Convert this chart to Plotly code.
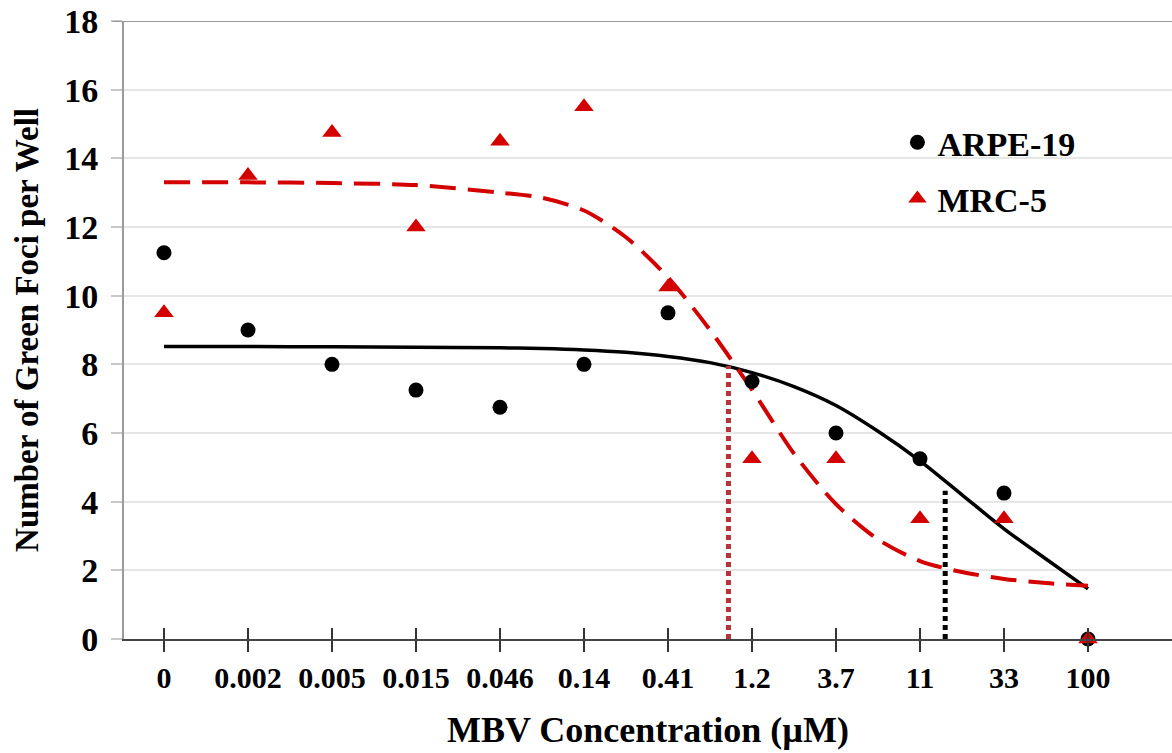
import plotly.graph_objects as go

# ---- data ----
conc_labels = ["0", "0.002", "0.005", "0.015", "0.046", "0.14", "0.41", "1.2", "3.7", "11", "33", "100"]
arpe19 = [11.25, 9.0, 8.0, 7.25, 6.75, 8.0, 9.5, 7.5, 6.0, 5.25, 4.25, 0.0]
mrc5 = [9.5, 13.5, 14.75, 12.0, 14.5, 15.5, 10.25, 5.25, 5.25, 3.5, 3.5, 0.0]

# fitted curves at category positions
fit_pos = [0, 1, 2, 3, 4, 4.5, 5, 5.5, 6, 6.5, 7, 7.5, 8, 8.5, 9, 9.5, 10, 10.5, 11]
arpe19_fit = [8.52, 8.52, 8.51, 8.50, 8.48, 8.46, 8.42, 8.35, 8.23, 8.05, 7.76, 7.35, 6.8, 6.05, 5.19, 4.2, 3.21, 2.33, 1.46]
mrc5_fit = [13.3, 13.3, 13.28, 13.22, 13.0, 12.85, 12.48, 11.7, 10.53, 9.0, 7.26, 5.4, 3.93, 2.9, 2.27, 1.95, 1.75, 1.63, 1.55]

# IC50 drop lines (category position, height)
mrc5_ic50 = (6.72, 7.95)
arpe19_ic50 = (9.30, 4.32)

pos = list(range(len(conc_labels)))

FONT = "Liberation Serif, Times New Roman, serif"
RED = "#d40000"
DROP_RED = "#b8323a"

fig = go.Figure()

fig.add_trace(go.Scatter(x=fit_pos, y=arpe19_fit, mode="lines",
                         line=dict(color="black", width=3.5, shape="spline", smoothing=0.8),
                         showlegend=False, hoverinfo="skip"))
fig.add_trace(go.Scatter(x=fit_pos, y=mrc5_fit, mode="lines",
                         line=dict(color=RED, width=4, shape="spline", smoothing=0.8, dash="26px,12px"),
                         showlegend=False, hoverinfo="skip"))

fig.add_trace(go.Scatter(x=[mrc5_ic50[0], mrc5_ic50[0]], y=[0, mrc5_ic50[1]], mode="lines",
                         line=dict(color=DROP_RED, width=5, dash="5px,4px"), showlegend=False, hoverinfo="skip"))
fig.add_trace(go.Scatter(x=[arpe19_ic50[0], arpe19_ic50[0]], y=[0, arpe19_ic50[1]], mode="lines",
                         line=dict(color="black", width=5, dash="5px,4px"), showlegend=False, hoverinfo="skip"))

fig.add_trace(go.Scatter(x=pos, y=arpe19, mode="markers", name="ARPE-19", legendgroup="a",
                         marker=dict(symbol="circle", size=15, color="black"), cliponaxis=False))
fig.add_trace(go.Scatter(x=pos, y=mrc5, mode="markers", name="MRC-5", legendgroup="b",
                         marker=dict(symbol="triangle-up", size=17, color=RED), cliponaxis=False))

fig.add_shape(type="line", xref="x domain", yref="y", x0=-0.011, x1=1, y0=18, y1=18,
              line=dict(color="#9a9a9a", width=2))

fig.update_layout(
    width=1172, height=753,
    margin=dict(l=124, r=0, t=21, b=114),
    paper_bgcolor="white", plot_bgcolor="white",
    font=dict(family=FONT, color="black"),
    showlegend=True,
    legend=dict(x=0.738, y=0.85, xanchor="left", yanchor="top", bgcolor="rgba(0,0,0,0)",
                font=dict(size=34, family=FONT, color="black", weight="bold"),
                tracegroupgap=9, itemsizing="trace"),
    xaxis=dict(range=[-0.476, 12.0], tickmode="array", tickvals=pos, ticktext=conc_labels,
               automargin=False,
               showgrid=False, zeroline=False, showline=True, linecolor="#444444", linewidth=1.5,
               ticks="outside", ticklen=11, tickwidth=1.5, tickcolor="#333333",
               tickfont=dict(size=30, family=FONT, color="black", weight="bold"),
               title=dict(text="MBV Concentration (µM)", standoff=24,
                          font=dict(size=36, family=FONT, color="black", weight="bold"))),
    xaxis2=dict(range=[-0.476, 12.0], overlaying="x", anchor="y", side="bottom", matches="x",
                automargin=False,
                tickmode="array", tickvals=pos, showticklabels=False, showgrid=False, zeroline=False,
                showline=False, ticks="inside", ticklen=11, tickwidth=1.5, tickcolor="#333333"),
    yaxis=dict(range=[0, 18], tickmode="array", tickvals=list(range(0, 19, 2)),
               automargin=False,
               showgrid=True, gridcolor="#e6e6e6", gridwidth=1.5, zeroline=False,
               showline=True, linecolor="#9a9a9a", linewidth=2,
               ticks="outside", ticklen=11, tickcolor="#c8c8c8", tickwidth=1.5,
               ticklabelstandoff=6,
               tickfont=dict(size=34, family=FONT, color="black", weight="bold"),
               title=dict(text="Number of Green Foci per Well", standoff=16,
                          font=dict(size=33, family=FONT, color="black", weight="bold"))),
)

# dummy trace to activate xaxis2 for the inward half of the x ticks
fig.add_trace(go.Scatter(x=[0], y=[None], xaxis="x2", yaxis="y", showlegend=False, hoverinfo="skip"))

fig.write_html("out.html", config={"displayModeBar": False},
               post_script="document.body.style.margin='0px';document.body.style.overflow='hidden';")
